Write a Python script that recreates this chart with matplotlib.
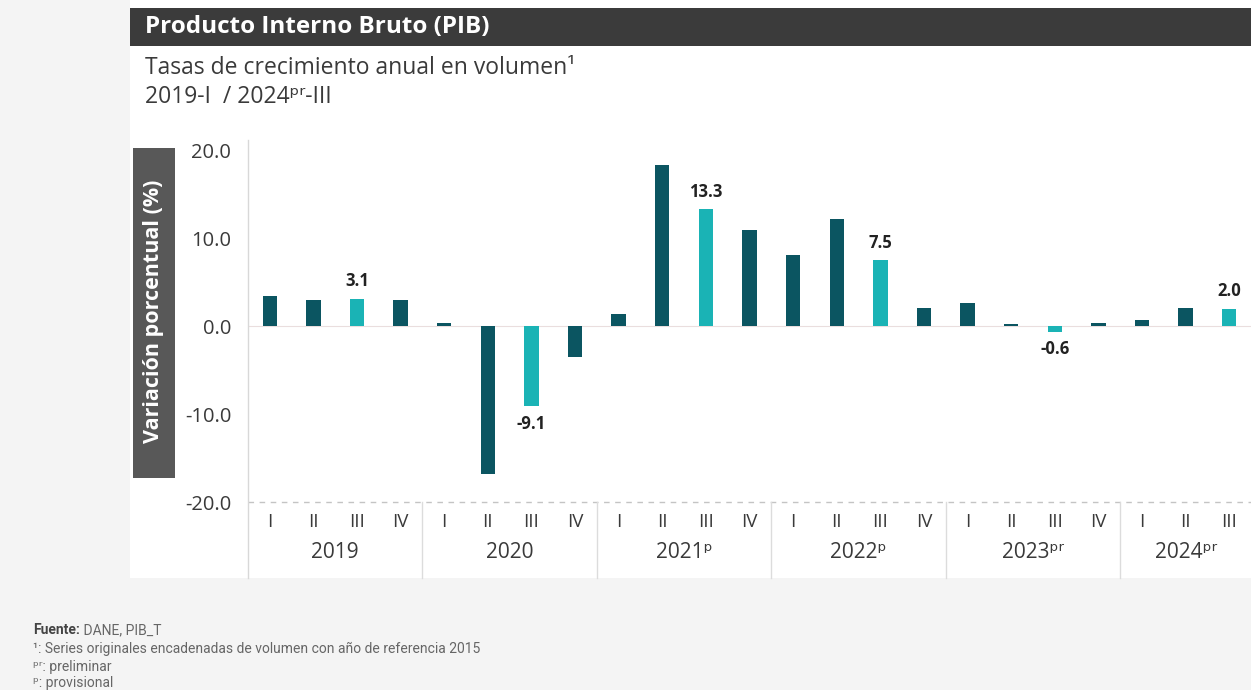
import numpy as np
import matplotlib.pyplot as plt
from matplotlib.patches import Rectangle

plt.rcParams['font.family'] = ['Open Sans', 'DejaVu Sans']

# Datos: tasas de crecimiento anual del PIB (%)
anios = ['2019', '2020', '2021ᵖ', '2022ᵖ', '2023ᵖʳ', '2024ᵖʳ']
trimestres_por_anio = [4, 4, 4, 4, 4, 3]
trimestres = ['I', 'II', 'III', 'IV']
valores = [3.4, 3.0, 3.1, 3.0,
           0.4, -16.8, -9.1, -3.5,
           1.4, 18.4, 13.3, 10.9,
           8.1, 12.2, 7.5, 2.1,
           2.6, 0.3, -0.6, 0.4,
           0.7, 2.1, 2.0]

OSCURO = '#0b5561'
CLARO = '#1ab3b5'
GRIS_TXT = '#3a3a3a'

fig = plt.figure(figsize=(12.51, 6.90), dpi=100)
fig.patch.set_facecolor('#f4f4f4')

# panel blanco
fig.add_artist(Rectangle((130 / 1251, 1 - 578 / 690), 1 - 130 / 1251, 578 / 690,
                         transform=fig.transFigure, facecolor='white', edgecolor='none', zorder=0))
# barra de título
fig.add_artist(Rectangle((130 / 1251, 1 - 46 / 690), 1 - 130 / 1251, 38 / 690,
                         transform=fig.transFigure, facecolor='#3b3b3b', edgecolor='none', zorder=1))
fig.text(145 / 1251, 1 - 27 / 690, 'Producto Interno Bruto (PIB)', color='white',
         fontsize=17.5, fontweight='bold', va='center', ha='left')
fig.text(145 / 1251, 1 - 68 / 690, 'Tasas de crecimiento anual en volumen¹', color=GRIS_TXT,
         fontsize=16.5, va='center', ha='left')
fig.text(145 / 1251, 1 - 97 / 690, '2019-I  / 2024ᵖʳ-III', color=GRIS_TXT,
         fontsize=16.5, va='center', ha='left')

# caja de etiqueta del eje y
fig.add_artist(Rectangle((133 / 1251, 1 - 478 / 690), 42 / 1251, 330 / 690,
                         transform=fig.transFigure, facecolor='#585858', edgecolor='none', zorder=1))
fig.text(154 / 1251, 1 - 311 / 690, 'Variación porcentual (%)', color='white', rotation=90,
         fontsize=15.5, fontweight='bold', va='center', ha='center')

ax = fig.add_axes([248 / 1251, 1 - 502 / 690, 1 - 248 / 1251, 362 / 690])
ax.set_facecolor('none')

n = len(valores)
x = np.arange(n)
colores = []
etiquetas_q = []
for k in trimestres_por_anio:
    for j in range(k):
        etiquetas_q.append(trimestres[j])
        colores.append(CLARO if j == 2 else OSCURO)

ax.bar(x, valores, width=0.33, color=colores, zorder=3)

for xi, v, q in zip(x, valores, etiquetas_q):
    if q == 'III':
        if v >= 0:
            ax.text(xi, v + 1.0, f'{v:.1f}', ha='center', va='bottom', fontsize=12,
                    fontweight='bold', color='#222222')
        else:
            ax.text(xi, v - 1.0, f'{v:.1f}', ha='center', va='top', fontsize=12,
                    fontweight='bold', color='#222222')

ax.set_xlim(-0.5, n - 0.5)
ax.set_ylim(-20, 21.2)
ax.set_yticks([-20, -10, 0, 10, 20])
ax.set_yticklabels([f'{t:.1f}' for t in [-20, -10, 0, 10, 20]])
ax.tick_params(axis='y', length=0, labelsize=14.5, labelcolor=GRIS_TXT, pad=12)
ax.set_xticks([])
for s in ['top', 'right', 'bottom', 'left']:
    ax.spines[s].set_visible(False)

ax.axhline(0, color='#eadede', lw=0.8, zorder=1)
ax.axhline(-20, color='#c4c4c4', lw=1.0, ls=(0, (4, 4)), zorder=1, clip_on=False)

# eje izquierdo extendido hasta la zona de categorías
trans = ax.get_xaxis_transform()
ax.plot([-0.5, -0.5], [1.0, -76 / 362], transform=trans, color='#d8d8d8', lw=1, clip_on=False)

# etiquetas de trimestres y años
ini = 0
for anio, k in zip(anios, trimestres_por_anio):
    for j in range(k):
        ax.text(ini + j, -20 / 362, trimestres[j], transform=trans, ha='center', va='center',
                fontsize=13.5, color=GRIS_TXT)
    centro = ini + (k - 1) / 2 if k == 4 else ini + 1
    ax.text(centro, -50 / 362, anio, transform=trans, ha='center', va='center',
            fontsize=15, color=GRIS_TXT)
    ini += k
    if ini < n:
        ax.plot([ini - 0.5, ini - 0.5], [0, -76 / 362], transform=trans, color='#dcdcdc',
                lw=1, clip_on=False)

# pie de página
pie_fam = ['Roboto', 'DejaVu Sans']
t_fuente = fig.text(33 / 1251, 1 - 630 / 690, 'Fuente:', fontsize=10, fontweight='bold',
                    family=pie_fam, color='#444444', va='center', ha='left')
fig.texts.append(plt.Annotation(' DANE, PIB_T', xy=(1, 0.5), xycoords=t_fuente,
                                xytext=(0, 0), textcoords='offset points', fontsize=10,
                                family=pie_fam, color='#666666', va='center', ha='left'))
fig.texts[-1].set_figure(fig)
notas = ['¹: Series originales encadenadas de volumen con año de referencia 2015',
         'ᵖʳ: preliminar',
         'ᵖ: provisional']
for nota, yy in zip(notas, [649, 667, 683]):
    fig.text(33 / 1251, 1 - yy / 690, nota, fontsize=10, family=pie_fam, color='#666666',
             va='center', ha='left')

fig.savefig('out.png', dpi=100, facecolor=fig.get_facecolor())
